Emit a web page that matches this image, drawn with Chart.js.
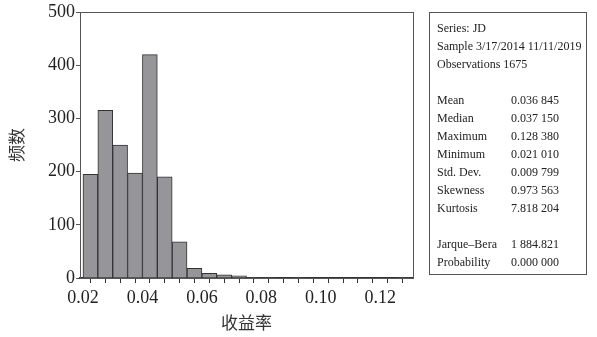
<!DOCTYPE html>
<html>
<head>
<meta charset="utf-8">
<script src="https://cdn.jsdelivr.net/npm/chart.js@4.4.1/dist/chart.umd.min.js"></script>
<style>
  html, body { margin: 0; padding: 0; background: #fff; }
  #wrap { position: relative; width: 597px; height: 337px; }
  #stats {
    position: absolute; left: 429px; top: 12px; width: 158px; height: 263px;
    border: 1px solid #555; box-sizing: border-box;
    font-family: "Liberation Serif", "DejaVu Serif", serif; font-size: 12px; color: #222;
    padding: 6px 0 0 7px; line-height: 18px;
  }
  #stats .row { display: flex; white-space: nowrap; }
  #stats .k { width: 74px; }
  #stats .gap { height: 18px; }
</style>
</head>
<body>
<div id="wrap">
  <canvas id="histChart" width="597" height="337"></canvas>
  <div id="stats"></div>
</div>
<script>
// Histogramm-Daten (Bin-Mitten, Breite 0.005)
const binCenters = [0.0225, 0.0275, 0.0325, 0.0375, 0.0425, 0.0475, 0.0525, 0.0575, 0.0625, 0.0675, 0.0725,
  0.0775, 0.0825, 0.0875, 0.0925, 0.0975, 0.1025, 0.1075, 0.1125, 0.1175, 0.1225, 0.1275];
const counts = [195, 315, 250, 197, 420, 190, 68, 18, 9, 6, 4, 1, 1, 0, 1, 0, 0, 0, 0, 0, 0, 1];
const xTickValues = [0.02, 0.025, 0.03, 0.035, 0.04, 0.045, 0.05, 0.055, 0.06, 0.065, 0.07, 0.075, 0.08,
  0.085, 0.09, 0.095, 0.10, 0.105, 0.11, 0.115, 0.12, 0.125, 0.13];
const xLabelValues = ['0.02', '0.04', '0.06', '0.08', '0.10', '0.12'];
const yTickValues = [0, 100, 200, 300, 400, 500];

// Statistik-Kasten
const headerLines = ['Series: JD', 'Sample 3/17/2014 11/11/2019', 'Observations 1675'];
const statNames = ['Mean', 'Median', 'Maximum', 'Minimum', 'Std. Dev.', 'Skewness', 'Kurtosis'];
const statValues = ['0.036 845', '0.037 150', '0.128 380', '0.021 010', '0.009 799', '0.973 563', '7.818 204'];
const testNames = ['Jarque\u2013Bera', 'Probability'];
const testValues = ['1 884.821', '0.000 000'];

const statsEl = document.getElementById('stats');
let html = headerLines.map(t => `<div class="row">${t}</div>`).join('');
html += '<div class="gap"></div>';
html += statNames.map((n, i) => `<div class="row"><span class="k">${n}</span><span>${statValues[i]}</span></div>`).join('');
html += '<div class="gap"></div>';
html += testNames.map((n, i) => `<div class="row"><span class="k">${n}</span><span>${testValues[i]}</span></div>`).join('');
statsEl.innerHTML = html;

const serif = '"Liberation Serif", "DejaVu Serif", serif';
const cjk = '"Noto Sans CJK SC", sans-serif';

// Rahmen um den Plotbereich
const framePlugin = {
  id: 'frame',
  afterDraw(chart) {
    const { ctx, chartArea: a } = chart;
    ctx.save();
    ctx.strokeStyle = '#555';
    ctx.lineWidth = 1;
    ctx.strokeRect(a.left + 0.5, a.top + 0.5, a.right - a.left, a.bottom - a.top);
    ctx.restore();
  }
};

const ctx = document.getElementById('histChart').getContext('2d');
new Chart(ctx, {
  type: 'bar',
  data: {
    datasets: [{
      data: binCenters.map((x, i) => ({ x: x, y: counts[i] })),
      backgroundColor: '#96969a',
      borderColor: '#333',
      borderWidth: 1,
      barPercentage: 1.0,
      categoryPercentage: 1.0
    }]
  },
  options: {
    responsive: false,
    animation: false,
    layout: { padding: { left: 0, top: 12, right: 184, bottom: 0 } },
    plugins: { legend: { display: false }, tooltip: { enabled: false } },
    scales: {
      x: {
        type: 'linear',
        min: 0.019,
        max: 0.131,
        offset: false,
        afterBuildTicks: s => { s.ticks = xTickValues.map(v => ({ value: v })); },
        afterFit: s => { s.height = 59; },
        ticks: {
          autoSkip: false, maxRotation: 0, padding: 4,
          color: '#222', font: { family: serif, size: 18 },
          callback: v => {
            const lab = xLabelValues.find(l => Math.abs(parseFloat(l) - v) < 1e-6);
            return lab || '';
          }
        },
        grid: { drawOnChartArea: false, tickLength: 5, tickColor: '#333' },
        border: { color: '#333', width: 1.5 },
        title: { display: true, text: '收益率', color: '#333', font: { family: cjk, size: 17 }, padding: { top: 6 } }
      },
      y: {
        min: 0,
        max: 500,
        afterBuildTicks: s => { s.ticks = yTickValues.map(v => ({ value: v })); },
        afterFit: s => { s.width = 80; },
        ticks: { padding: 1, color: '#222', font: { family: serif, size: 18 } },
        grid: { drawOnChartArea: false, tickLength: 4, tickColor: '#555' },
        border: { color: '#555', width: 1 },
        title: { display: true, text: '频数', color: '#333', font: { family: cjk, size: 17 }, padding: { top: 6, bottom: 10 } }
      }
    }
  },
  plugins: [framePlugin]
});
</script>
</body>
</html>
